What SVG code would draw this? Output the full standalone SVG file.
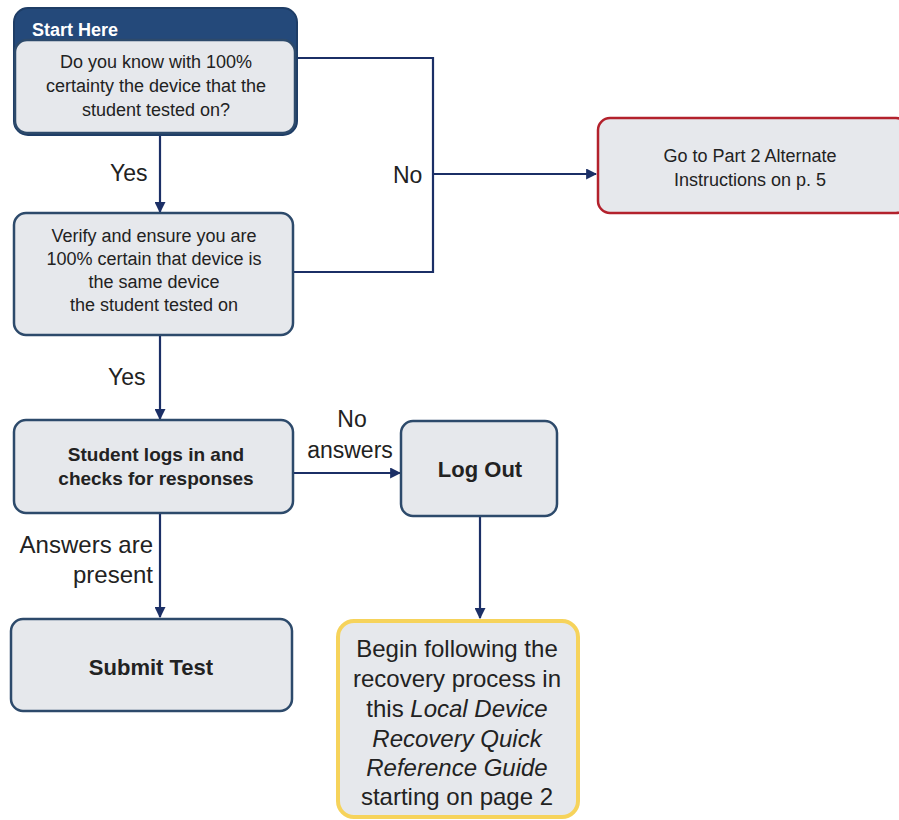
<svg xmlns="http://www.w3.org/2000/svg" width="899" height="820" viewBox="0 0 899 820">
<defs>
<style>
.box{fill:#e6e8ec;stroke:#2d4a6b;stroke-width:2.5}
.t{font-family:"Liberation Sans",Arial,sans-serif;font-size:18px;fill:#222;text-anchor:middle}
.b{font-weight:bold;font-size:19px}
.lbl{font-family:"Liberation Sans",Arial,sans-serif;font-size:23px;fill:#222}
.big{font-size:24px}
.c{fill:none;stroke:#1b2f66;stroke-width:2.2}
</style>
<marker id="ah" viewBox="0 0 10 10" refX="9" refY="5" markerWidth="5" markerHeight="5" orient="auto" markerUnits="strokeWidth">
<path d="M0,0 L10,5 L0,10 z" fill="#1b2f66"/>
</marker>
</defs>
<rect width="899" height="820" fill="#fff"/>

<g id="connectors">
<path class="c" d="M160,135 L160,212" marker-end="url(#ah)"/>
<path class="c" d="M297,58 L433,58 L433,272 L293,272"/>
<path class="c" d="M433,174 L596,174" marker-end="url(#ah)"/>
<path class="c" d="M160,335 L160,419" marker-end="url(#ah)"/>
<path class="c" d="M293,473 L400,473" marker-end="url(#ah)"/>
<path class="c" d="M480,516 L480,618" marker-end="url(#ah)"/>
<path class="c" d="M160,513 L160,617" marker-end="url(#ah)"/>
<text class="lbl" x="110" y="181">Yes</text>
<text class="lbl" x="108" y="385">Yes</text>
<text class="lbl" x="393" y="183">No</text>
<text class="lbl" x="352" y="427" text-anchor="middle">No</text>
<text class="lbl" x="350" y="458" text-anchor="middle">answers</text>
<text class="lbl" x="153" y="553" text-anchor="end" style="font-size:24px">Answers are</text>
<text class="lbl" x="153" y="583" text-anchor="end" style="font-size:24px">present</text>
</g>

<g id="start">
<rect x="14" y="8" width="283" height="127" rx="14" fill="#24497a" stroke="#1e3d66" stroke-width="2"/>
<text x="32" y="36" font-family="Liberation Sans,Arial,sans-serif" font-size="18" font-weight="bold" fill="#fff">Start Here</text>
<rect class="box" x="15" y="40" width="280" height="93" rx="12"/>
<text class="t" x="156" y="68">Do you know with 100%</text>
<text class="t" x="156" y="92">certainty the device that the</text>
<text class="t" x="156" y="116">student tested on?</text>
</g>

<g id="verify">
<rect class="box" x="14" y="213" width="279" height="122" rx="12"/>
<text class="t" x="154" y="242">Verify and ensure you are</text>
<text class="t" x="154" y="265">100% certain that device is</text>
<text class="t" x="154" y="288">the same device</text>
<text class="t" x="154" y="311">the student tested on</text>
</g>

<g id="goto">
<rect x="598" y="118" width="310" height="95" rx="12" fill="#e6e8ec" stroke="#b3212c" stroke-width="2.5"/>
<text class="t" x="750" y="162">Go to Part 2 Alternate</text>
<text class="t" x="750" y="186">Instructions on p. 5</text>
</g>

<g id="logs">
<rect class="box" x="14" y="420" width="279" height="93" rx="12"/>
<text class="t b" x="156" y="461">Student logs in and</text>
<text class="t b" x="156" y="485">checks for responses</text>
</g>

<g id="logout">
<rect class="box" x="401" y="421" width="156" height="95" rx="12"/>
<text class="t b" x="480" y="477" style="font-size:22px">Log Out</text>
</g>

<g id="submit">
<rect class="box" x="11" y="619" width="281" height="92" rx="12"/>
<text class="t b" x="151" y="675" style="font-size:22px">Submit Test</text>
</g>

<g id="begin">
<rect x="338" y="621" width="240" height="196" rx="16" fill="#e6e8ec" stroke="#f6d35b" stroke-width="4"/>
<text class="lbl big" x="457" y="657" text-anchor="middle">Begin following the</text>
<text class="lbl big" x="457" y="687" text-anchor="middle">recovery process in</text>
<text class="lbl big" x="457" y="717" text-anchor="middle">this <tspan font-style="italic">Local Device</tspan></text>
<text class="lbl big" x="457" y="747" text-anchor="middle" font-style="italic">Recovery Quick</text>
<text class="lbl big" x="457" y="776" text-anchor="middle" font-style="italic">Reference Guide</text>
<text class="lbl big" x="457" y="805" text-anchor="middle">starting on page 2</text>
</g>
</svg>
